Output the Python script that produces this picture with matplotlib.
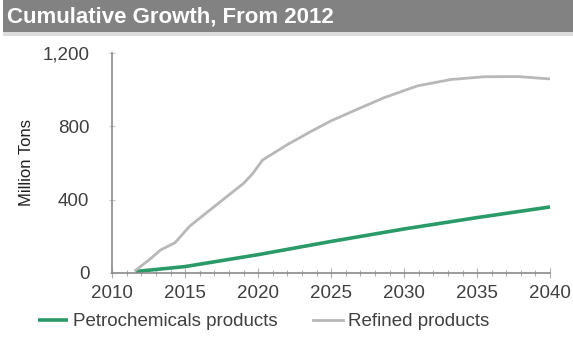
import matplotlib.pyplot as plt
from matplotlib.patches import Rectangle

plt.rcParams['font.family'] = ['Liberation Sans', 'DejaVu Sans']

# cumulative growth since 2012, million tons
petro_years = [2011.6, 2015, 2020, 2025, 2030, 2035, 2040]
petro_vals = [8, 35, 100, 172, 240, 302, 360]

refined_years = [2011.6, 2012.5, 2013.3, 2014.3, 2015.3, 2016.7, 2019.0, 2019.6,
                 2020.3, 2022.0, 2023.6, 2025.0, 2027.0, 2028.6, 2030.9, 2033.2,
                 2035.5, 2037.8, 2040.0]
refined_vals = [15, 70, 125, 165, 255, 344, 489, 540,
                616, 700, 771, 830, 900, 955, 1020, 1055,
                1070, 1071, 1058]

yticks = [0, 400, 800, 1200]
ytick_labels = ['0', '400', '800', '1,200']
xticks = [2010, 2015, 2020, 2025, 2030, 2035, 2040]

fig = plt.figure(figsize=(5.73, 3.37), dpi=100)

# header band
fig.patches.append(Rectangle((0.005, 0.905), 0.995, 0.095, transform=fig.transFigure,
                             facecolor='#828282', edgecolor='none', zorder=0))
fig.patches.append(Rectangle((0.005, 0.893), 0.995, 0.013, transform=fig.transFigure,
                             facecolor='#dcdcdc', edgecolor='none', zorder=0))
fig.text(0.013, 0.950, 'Cumulative Growth, From 2012', color='white',
         fontsize=16, fontweight='bold', va='center', ha='left')

ax = fig.add_axes([0.196, 0.19, 0.764, 0.653])
ax.plot(petro_years, petro_vals, color='#2a9a68', lw=2.6, solid_capstyle='butt',
        label='Petrochemicals products')
ax.plot(refined_years, refined_vals, color='#b8b8b8', lw=2.0,
        label='Refined products')

ax.set_xlim(2010, 2040)
ax.set_ylim(0, 1200)
ax.set_yticks(yticks)
ax.set_yticklabels(ytick_labels)
ax.set_xticks(xticks)
ax.set_xticks(range(2010, 2041), minor=True)

for side in ('top', 'right'):
    ax.spines[side].set_visible(False)
for side in ('left', 'bottom'):
    ax.spines[side].set_color('#8a8a8a')
    ax.spines[side].set_linewidth(1.2)

ax.tick_params(axis='y', direction='inout', length=5, width=0.8, colors='#c8c8c8',
               labelcolor='#404040', labelsize=13.5, pad=14)
ax.tick_params(axis='x', which='major', direction='inout', length=7, width=0.8,
               colors='#b0b0b0', labelcolor='#404040', labelsize=13.5, pad=5)
ax.tick_params(axis='x', which='minor', direction='inout', length=5, width=0.8,
               colors='#b0b0b0')

ax.set_ylabel('Million Tons', fontsize=12,
              family=['Liberation Sans Narrow', 'Liberation Sans'],
              color='#202020', labelpad=6)

fig.legend(loc='lower center', bbox_to_anchor=(0.46, -0.03), ncol=2, frameon=False,
           fontsize=13.5, handlelength=1.6, handletextpad=0.25, columnspacing=1.9,
           labelcolor='#404040')

fig.savefig('out.png', dpi=100)
